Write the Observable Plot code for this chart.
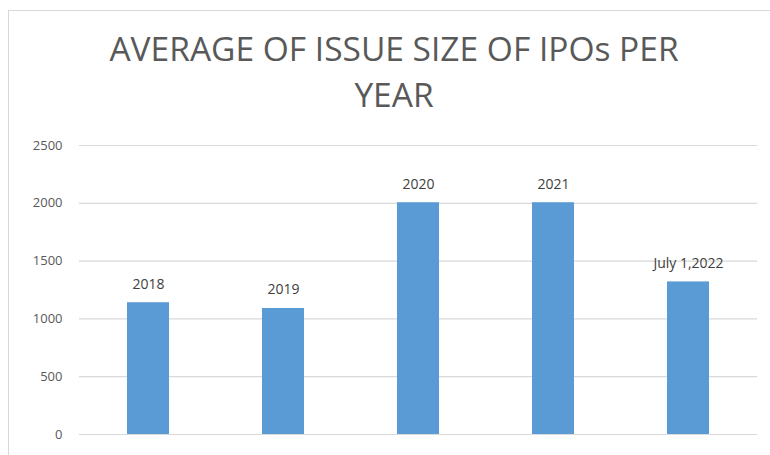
<!DOCTYPE html>
<html>
<head>
<meta charset="utf-8">
<script src="https://cdn.jsdelivr.net/npm/d3@7"></script>
<script src="https://cdn.jsdelivr.net/npm/@observablehq/plot@0.6"></script>
<style>
  html, body { margin: 0; padding: 0; background: #fff; width: 770px; height: 455px; overflow: hidden; }
  #frame { position: absolute; left: 8px; top: 10px; width: 780px; height: 460px; border: 1px solid #d9d9d9; box-sizing: border-box; }
  #title { position: absolute; left: 0; top: 25px; width: 788px; text-align: center; font-family: "Open Sans", sans-serif; font-size: 33.5px; line-height: 46px; color: #595959; }
  #chart { position: absolute; left: 0; top: 130px; }
</style>
</head>
<body>
<div id="frame"></div>
<div id="title">AVERAGE OF ISSUE SIZE OF IPOs PER<br>YEAR</div>
<div id="chart"></div>
<script>
const categories = ["2018", "2019", "2020", "2021", "July 1,2022"];
const values = [1140, 1090, 2005, 2005, 1320];
const yTicks = [0, 500, 1000, 1500, 2000, 2500];

const data = categories.map((c, i) => ({category: c, value: values[i]}));

const chart = Plot.plot({
  width: 770,
  height: 325,
  marginTop: 15,
  marginBottom: 21,
  marginLeft: 79,
  marginRight: 13,
  style: {fontFamily: "'Open Sans', sans-serif", fontSize: "13px", color: "#595959", background: "transparent"},
  x: {domain: categories, paddingInner: 0.69, paddingOuter: 0.345, axis: null},
  y: {domain: [0, 2500], ticks: yTicks, grid: false, label: null},
  marks: [
    Plot.ruleY(yTicks, {stroke: "#d9d9d9", strokeWidth: 1.2}),
    Plot.axisY({ticks: yTicks, tickSize: 0, tickPadding: 17, tickFormat: d => String(d), label: null, fill: "#595959", fontSize: 13}),
    Plot.barY(data, {x: "category", y: "value", fill: "#5b9bd5"}),
    Plot.text(data, {x: "category", y: "value", text: "category", dy: -14, lineAnchor: "bottom", fill: "#404040", fontSize: 14})
  ]
});
document.getElementById("chart").appendChild(chart);
</script>
</body>
</html>
